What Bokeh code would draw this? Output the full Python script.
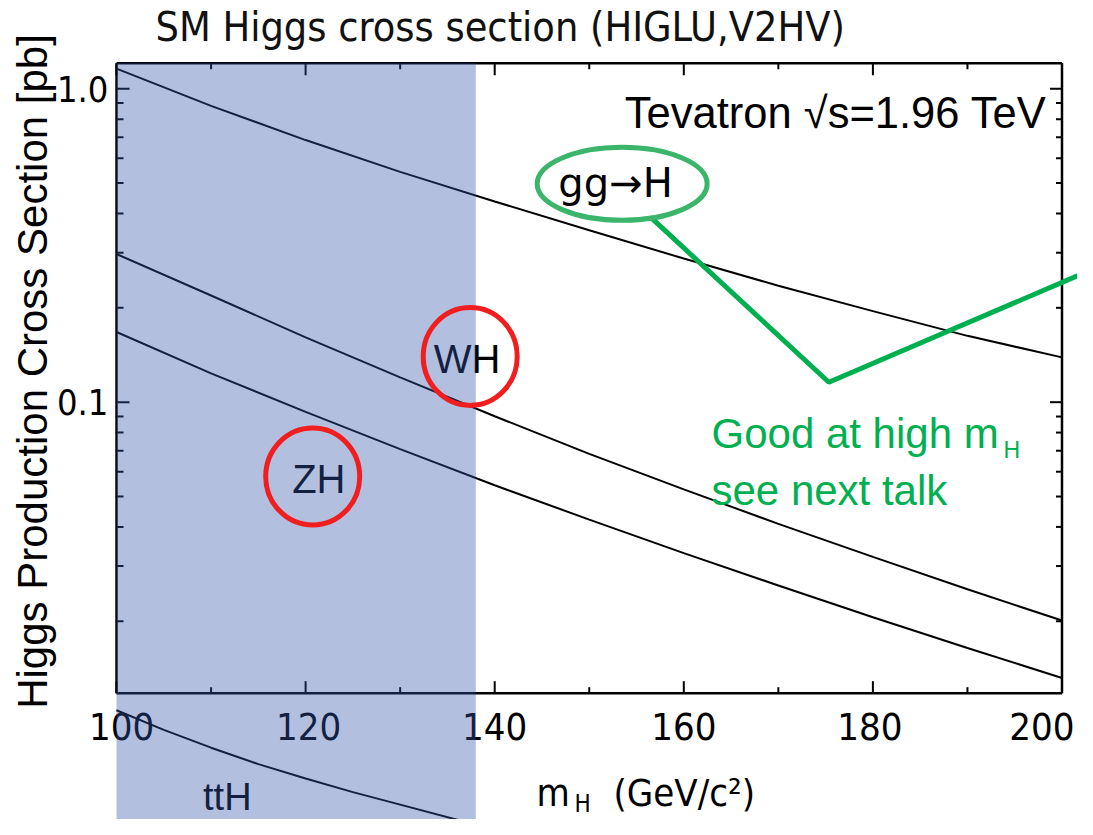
import numpy as np
from bokeh.plotting import figure
from bokeh.models import Range1d
from bokeh.core.properties import value
from bokeh.embed import file_html
from bokeh.resources import INLINE

# ---------------- data ----------------
mass = [100, 110, 120, 130, 140, 150, 160, 170, 180, 190, 200]
xsec_ggH = [1.160, 0.882, 0.686, 0.543, 0.437, 0.3535, 0.2873, 0.2352, 0.1952, 0.1628, 0.1390]
xsec_WH = [0.297, 0.219, 0.161, 0.120, 0.0902, 0.0684, 0.0527, 0.0409, 0.0321, 0.0253, 0.0201]
xsec_ZH = [0.1675, 0.1236, 0.0931, 0.0708, 0.0543, 0.0422, 0.0330, 0.0260, 0.0206, 0.01644, 0.01318]
mass_ttH = [100, 105, 110, 115, 120, 125, 130, 137]
xsec_ttH = [0.0104, 0.0090, 0.0079, 0.0070, 0.0063, 0.0057, 0.0052, 0.00457]

# ---------------- axes / ticks ----------------
x_major = [100, 120, 140, 160, 180, 200]
x_minor = [110, 130, 150, 170, 190]
x_tick_labels = ["100", "120", "140", "160", "180", "200"]
x_tick_label_shift = [5, 3, 0, 0, -3, -20]
y_major = [0.1, 1.0]
y_minor = [0.02, 0.03, 0.04, 0.05, 0.06, 0.07, 0.08, 0.09,
           0.2, 0.3, 0.4, 0.5, 0.6, 0.7, 0.8, 0.9]
y_tick_labels = ["0.1", "1.0"]

frame_x = (100, 200)
frame_y = (0.01179, 1.207)
shade_x = (100, 138)
view_x = (87.73, 201.64)
view_y = (0.004661, 1.9127)

# ---------------- annotation anchors (data coordinates, text centres) ----------------
title_pos = (104.12, 1.580)
tevatron_pos = (198.36, 0.8340)
gg_pos = (152.78, 0.4986)
gg_ellipse = (153.48, 0.4975)
arrow_x = [156.48, 175.34, 203.34]
arrow_y = [0.3894, 0.1158, 0.2661]
vh_text_x = [137.09, 121.40]
vh_text_y = [0.1375, 0.05696]
vh_text = ["WH", "ZH"]
vh_circle_x = [137.41, 120.75]
vh_circle_y = [0.1399, 0.0579]
tth_pos = (111.72, 0.005518)
note_x = 162.93
note_y = [0.07946, 0.05229]
note_sub = (193.81, 0.07013)
xlabel_m = (144.42, 0.005682)
xlabel_sub = (148.44, 0.005215)
xlabel_unit = (152.56, 0.005682)
ylabel_pos = (91.12, 0.1253)
ytick_label_x = 99.15
xtick_label_y = 0.009231

GREEN = "#00b050"
RING = "#3ab56b"
RED = "#f01e1e"
COND = value("DejaVu Sans Condensed")
SANS = value("Liberation Sans")

p = figure(width=1077, height=819, x_range=Range1d(*view_x), y_range=Range1d(*view_y),
           y_axis_type="log", x_axis_location=None, y_axis_location=None,
           toolbar_location=None, output_backend="svg", title=None,
           min_border_left=0, min_border_right=0, min_border_top=0, min_border_bottom=0)
p.outline_line_color = None
p.grid.visible = False
p.background_fill_color = "white"
p.border_fill_color = "white"

# curves
for ys in (xsec_ggH, xsec_WH, xsec_ZH):
    p.line(mass, ys, line_color="black", line_width=2)
p.line(mass_ttH, xsec_ttH, line_color="black", line_width=2)

# frame
p.segment(x0=[frame_x[0], frame_x[1], frame_x[0], frame_x[0]],
          y0=[frame_y[0], frame_y[0], frame_y[1], frame_y[0]],
          x1=[frame_x[1], frame_x[1], frame_x[1], frame_x[0]],
          y1=[frame_y[0], frame_y[1], frame_y[1], frame_y[1]],
          line_color="black", line_width=2.5)
tick_kw = dict(line_color="black", line_width=2, length_units="screen")
p.ray(x=x_major, y=[frame_y[0]] * len(x_major), length=12, angle=np.pi / 2, **tick_kw)
p.ray(x=x_minor, y=[frame_y[0]] * len(x_minor), length=6, angle=np.pi / 2, **tick_kw)
p.ray(x=x_major, y=[frame_y[1]] * len(x_major), length=12, angle=-np.pi / 2, **tick_kw)
p.ray(x=x_minor, y=[frame_y[1]] * len(x_minor), length=6, angle=-np.pi / 2, **tick_kw)
p.ray(x=[frame_x[0]] * len(y_major), y=y_major, length=13, angle=0, **tick_kw)
p.ray(x=[frame_x[0]] * len(y_minor), y=y_minor, length=7, angle=0, **tick_kw)
p.ray(x=[frame_x[1]] * len(y_major), y=y_major, length=12, angle=np.pi, **tick_kw)
p.ray(x=[frame_x[1]] * len(y_minor), y=y_minor, length=6, angle=np.pi, **tick_kw)

mid = dict(text_baseline="middle")

# tick labels
p.text(x=x_major, y=[xtick_label_y] * len(x_major), text=x_tick_labels,
       x_offset=x_tick_label_shift, text_align="center", text_font=COND,
       text_font_size=value("38px"), text_color="black", **mid)
p.text(x=[ytick_label_x] * len(y_major), y=y_major, text=y_tick_labels,
       text_align="right", text_font=COND,
       text_font_size=value("36px"), text_color="black", **mid)

# axis labels
p.text(x=[ylabel_pos[0]], y=[ylabel_pos[1]], text=["Higgs Production Cross Section [pb]"],
       angle=np.pi / 2, text_align="center", text_font=SANS,
       text_font_size=value("42px"), text_color="black", **mid)
p.text(x=[xlabel_m[0]], y=[xlabel_m[1]], text=["m"], text_align="left",
       text_font=COND, text_font_size=value("38px"), text_color="black", **mid)
p.text(x=[xlabel_sub[0]], y=[xlabel_sub[1]], text=["H"], text_align="left",
       text_font=COND, text_font_size=value("24px"), text_color="black", **mid)
p.text(x=[xlabel_unit[0]], y=[xlabel_unit[1]], text=["(GeV/c²)"], text_align="left",
       text_font=COND, text_font_size=value("38px"), text_color="black", **mid)

# title
p.text(x=[title_pos[0]], y=[title_pos[1]], text=["SM Higgs cross section (HIGLU,V2HV)"],
       text_align="left", text_font=COND,
       text_font_size=value("41px"), text_color="#111111", **mid)

# in-plot texts
p.text(x=[tevatron_pos[0]], y=[tevatron_pos[1]], text=["Tevatron √s=1.96 TeV"],
       text_align="right", text_font=SANS,
       text_font_size=value("43.5px"), text_color="black", **mid)
p.text(x=[gg_pos[0]], y=[gg_pos[1]], text=["gg→H"], text_align="center",
       text_font=value("DejaVu Sans"), text_font_size=value("40px"), text_color="black", **mid)
p.text(x=vh_text_x, y=vh_text_y, text=vh_text, text_align="center",
       text_font=SANS, text_font_size=value("40px"), text_color="black", **mid)
p.text(x=[tth_pos[0]], y=[tth_pos[1]], text=["ttH"], text_align="center",
       text_font=SANS, text_font_size=value("38px"), text_color="black", **mid)
p.text(x=[note_x, note_x], y=note_y, text=["Good at high m", "see next talk"], text_align="left",
       text_font=SANS, text_font_size=value("42px"), text_color=GREEN, **mid)
p.text(x=[note_sub[0]], y=[note_sub[1]], text=["H"], text_align="left",
       text_font=SANS, text_font_size=value("23px"), text_color=GREEN, **mid)

# green annotation
p.line(arrow_x, arrow_y, line_color=GREEN, line_width=5)
p.ellipse(x=[gg_ellipse[0]], y=[gg_ellipse[1]], width=170, height=73,
          width_units="screen", height_units="screen", fill_color=None,
          line_color=RING, line_width=5)

# translucent band (drawn over everything beneath)
p.quad(left=[shade_x[0]], right=[shade_x[1]], bottom=[view_y[0]], top=[frame_y[1]],
       fill_color="#3555aa", fill_alpha=0.376, line_color=None, level="overlay")

# red circles on top
p.ellipse(x=vh_circle_x, y=vh_circle_y, width=[94, 94], height=[98, 97],
          width_units="screen", height_units="screen", fill_color=None,
          line_color=RED, line_width=5, level="overlay")

open("out.html", "w").write(file_html(p, INLINE))
